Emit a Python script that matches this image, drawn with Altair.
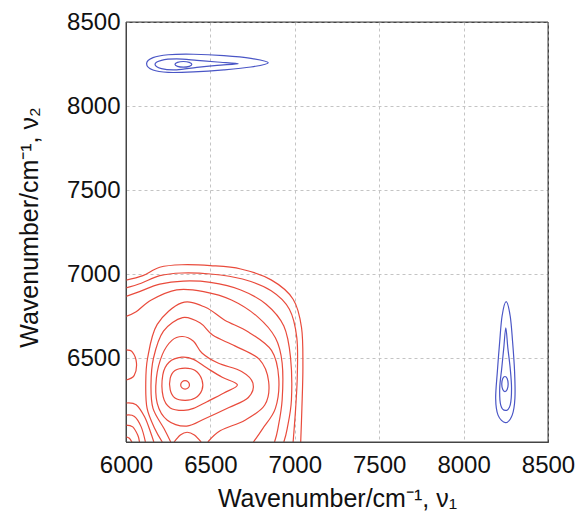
import altair as alt
import pandas as pd

RED = "#e94b3c"
BLUE = "#4a56c6"

# ---- axis ticks ----
x_ticks = [6000, 6500, 7000, 7500, 8000, 8500]
y_ticks = [6500, 7000, 7500, 8000, 8500]

# ---- red (positive) contours: closed rings around the peak ----
red_r1 = [(6350, 6365), (6368, 6358), (6376, 6340), (6368, 6322), (6350, 6315), (6332, 6322), (6324, 6340), (6332, 6358)]
red_r2 = [(6350, 6440), (6410, 6425), (6450, 6370), (6450, 6310), (6410, 6262), (6350, 6248), (6290, 6262), (6262, 6310), (6262, 6380), (6290, 6425)]
red_r3 = [(6330, 6505), (6400, 6492), (6480, 6440), (6570, 6385), (6660, 6340), (6580, 6292), (6480, 6240), (6400, 6200), (6340, 6188), (6262, 6203), (6220, 6270), (6218, 6400), (6255, 6475)]
red_r4 = [(6335, 6628), (6400, 6600), (6450, 6530), (6545, 6470), (6685, 6420), (6752, 6350), (6725, 6265), (6610, 6205), (6470, 6140), (6360, 6095), (6245, 6130), (6185, 6230), (6180, 6380), (6215, 6520), (6272, 6605)]

# ---- red contours cut by the plot edges ----
red_u5 = [(6265, 6000), (6225, 6080), (6160, 6200), (6148, 6340), (6163, 6500), (6222, 6660), (6335, 6740), (6440, 6708), (6515, 6635), (6645, 6572), (6790, 6492), (6845, 6360), (6822, 6220), (6705, 6130), (6560, 6068), (6485, 6000)]
red_u6 = [(6215, 6000), (6170, 6080), (6125, 6200), (6117, 6340), (6128, 6500), (6185, 6700), (6330, 6828), (6470, 6802), (6585, 6725), (6725, 6655), (6862, 6545), (6905, 6380), (6885, 6200), (6810, 6080), (6755, 6000)]
red_7a = [(6000, 6748), (6060, 6775), (6150, 6845), (6300, 6905), (6460, 6895), (6625, 6845), (6780, 6745), (6885, 6620), (6925, 6470), (6925, 6250), (6900, 6080), (6880, 6000)]
red_8a = [(6000, 6867), (6080, 6895), (6200, 6940), (6340, 6958), (6500, 6950), (6680, 6905), (6830, 6820), (6935, 6690), (6975, 6500), (6980, 6250), (6955, 6080), (6935, 6000)]
red_9a = [(6000, 6917), (6090, 6945), (6200, 6990), (6330, 7006), (6500, 7000), (6690, 6970), (6860, 6900), (6968, 6790), (7012, 6620), (7015, 6400), (7005, 6200), (6990, 6000)]
red_10a = [(6000, 6964), (6100, 6990), (6200, 7040), (6330, 7055), (6500, 7050), (6680, 7030), (6860, 6965), (6990, 6850), (7040, 6680), (7048, 6450), (7042, 6200), (7035, 6000)]
red_7b = [(6000, 6232), (6060, 6222), (6110, 6150), (6145, 6060), (6165, 6000)]
red_8b = [(6000, 6160), (6050, 6152), (6090, 6090), (6115, 6000)]
red_9b = [(6000, 6101), (6040, 6090), (6070, 6040), (6080, 6000)]
red_10b = [(6000, 6030), (6020, 6022), (6035, 6000)]
red_lobe = [(6000, 6548), (6038, 6535), (6062, 6470), (6048, 6395), (6000, 6369)]
red_cap = [(6285, 6000), (6322, 6042), (6362, 6058), (6405, 6042), (6445, 6000)]

# ---- blue (negative) contours ----
blue_top_outer = [(6122, 8252), (6160, 8288), (6250, 8305), (6400, 8308), (6580, 8300), (6740, 8284), (6843, 8258), (6740, 8232), (6580, 8215), (6400, 8203), (6250, 8200), (6160, 8214)]
blue_top_mid = [(6172, 8248), (6210, 8272), (6300, 8280), (6420, 8272), (6540, 8262), (6665, 8252), (6540, 8242), (6420, 8230), (6300, 8215), (6210, 8222)]
blue_top_in = [(6340, 8265), (6375, 8260), (6390, 8248), (6375, 8236), (6340, 8231), (6305, 8236), (6290, 8248), (6305, 8260)]
blue_right_outer = [(8248, 6115), (8288, 6160), (8304, 6260), (8302, 6420), (8290, 6600), (8276, 6750), (8252, 6835), (8228, 6750), (8214, 6600), (8200, 6420), (8190, 6260), (8204, 6160)]
blue_right_mid = [(8248, 6188), (8276, 6220), (8284, 6320), (8276, 6440), (8262, 6560), (8250, 6680), (8238, 6560), (8226, 6440), (8214, 6320), (8220, 6220)]
blue_right_in = [(8245, 6390), (8258, 6378), (8264, 6345), (8258, 6312), (8245, 6300), (8232, 6312), (8226, 6345), (8232, 6378)]

closed_sets = [
    ("r1", red_r1, RED), ("r2", red_r2, RED), ("r3", red_r3, RED), ("r4", red_r4, RED),
    ("bto", blue_top_outer, BLUE), ("btm", blue_top_mid, BLUE), ("bti", blue_top_in, BLUE),
    ("bro", blue_right_outer, BLUE), ("brm", blue_right_mid, BLUE), ("bri", blue_right_in, BLUE),
]
open_sets = [
    ("u5", red_u5, RED), ("u6", red_u6, RED), ("7a", red_7a, RED), ("8a", red_8a, RED),
    ("9a", red_9a, RED), ("10a", red_10a, RED), ("7b", red_7b, RED), ("8b", red_8b, RED),
    ("9b", red_9b, RED), ("10b", red_10b, RED), ("lobe", red_lobe, RED), ("cap", red_cap, RED),
]


def to_df(sets):
    rows = []
    for cid, pts, col in sets:
        for i, (x, y) in enumerate(pts):
            rows.append({"cid": cid, "i": i, "x": x, "y": y, "col": col})
    return pd.DataFrame(rows)


df_closed = to_df(closed_sets)
df_open = to_df(open_sets)

x_enc = alt.X(
    "x:Q",
    scale=alt.Scale(domain=[6000, 8500], nice=False, zero=False),
    axis=alt.Axis(
        values=x_ticks, format="d", grid=True, ticks=False, tickSize=0,
        labelFontSize=24, labelPadding=11, labelFlush=False, labelColor="#111",
        title="Wavenumber/cm⁻¹, ν₁", titleFontSize=25, titleFontWeight="normal",
        titleColor="#111", titleX=211, titleY=64, titleBaseline="alphabetic",
        titleAlign="center",
    ),
)
y_enc = alt.Y(
    "y:Q",
    scale=alt.Scale(domain=[6000, 8500], nice=False, zero=False),
    axis=alt.Axis(
        values=y_ticks, format="d", grid=True, ticks=False, tickSize=0,
        labelFontSize=24, labelPadding=6, labelFlush=False, labelColor="#111",
        title="Wavenumber/cm⁻¹, ν₂", titleFontSize=25, titleFontWeight="normal",
        titleColor="#111", titleX=-97, titleY=205, titleAngle=270,
        titleAlign="center", titleBaseline="middle",
    ),
)

closed_layer = alt.Chart(df_closed).mark_line(
    interpolate="cardinal-closed", strokeWidth=1.2, clip=True
).encode(
    x=x_enc, y=y_enc, detail="cid:N", order="i:Q",
    color=alt.Color("col:N", scale=None),
)
open_layer = alt.Chart(df_open).mark_line(
    interpolate="cardinal", strokeWidth=1.2, clip=True
).encode(
    x=x_enc, y=y_enc, detail="cid:N", order="i:Q",
    color=alt.Color("col:N", scale=None),
)
# solid box frame drawn above the dashed grid
frame = alt.Chart(pd.DataFrame({"a": [0]})).mark_rect(
    fill=None, stroke="#444", strokeWidth=1
).encode(
    x=alt.value(0), x2=alt.value(422), y=alt.value(0), y2=alt.value(420)
)

chart = alt.layer(closed_layer, open_layer, frame).properties(
    width=422, height=420,
    autosize=alt.AutoSizeParams(type="none"),
    padding={"left": 126, "top": 22, "right": 32, "bottom": 79},
).configure_axis(
    labelFont="Liberation Sans", titleFont="Liberation Sans",
    gridColor="#c4c4c4", gridDash=[3, 3], gridWidth=1,
    domainColor="#444",
).configure_view(stroke="#444", strokeWidth=1)

chart.save("out.html", embed_options={"renderer": "svg", "actions": False})
